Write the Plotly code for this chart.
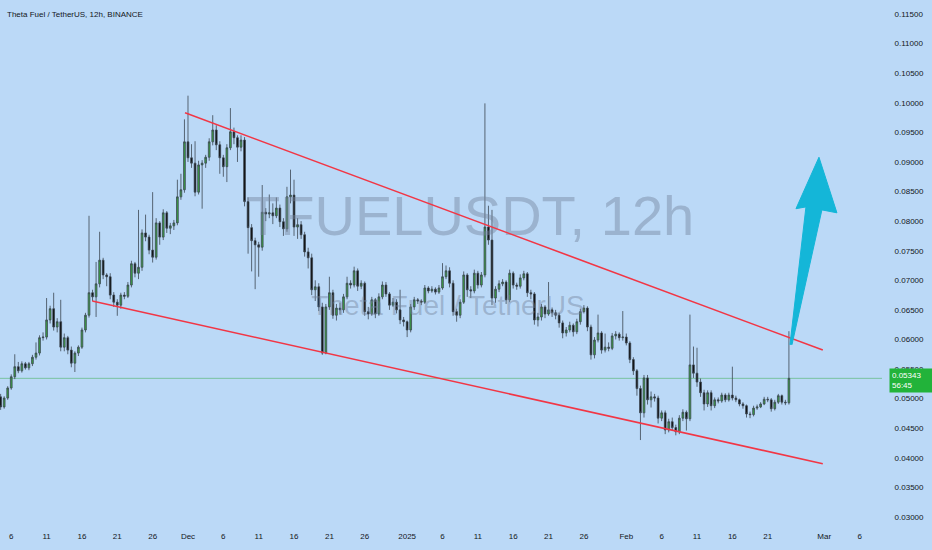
import plotly.graph_objects as go
import pandas as pd

# ---------------- data ----------------
start_time = "2024-11-04 12:00"   # first 12h candle
first_open = 0.0503

close = [0.0486,0.0501,0.0518,0.0537,0.0554,0.0547,0.0559,0.0552,0.0559,0.0570,
         0.0577,0.0603,0.0604,0.0633,0.0652,0.0621,0.0630,0.0587,0.0603,0.0582,
         0.0560,0.0577,0.0587,0.0616,0.0641,0.0679,0.0672,0.0694,0.0734,0.0709,
         0.0706,0.0675,0.0663,0.0658,0.0675,0.0673,0.0692,0.0728,0.0712,0.0722,
         0.0780,0.0773,0.0751,0.0739,0.0797,0.0773,0.0814,0.0788,0.0792,0.0797,
         0.0841,0.0853,0.0934,0.0907,0.0898,0.0849,0.0895,0.0898,0.0908,0.0934,
         0.0954,0.0929,0.0907,0.0892,0.0924,0.0951,0.0941,0.0925,0.0937,0.0833,
         0.0789,0.0767,0.0760,0.0756,0.0815,0.0812,0.0814,0.0809,0.0822,0.0799,
         0.0787,0.0841,0.0844,0.0790,0.0794,0.0777,0.0748,0.0738,0.0684,0.0689,
         0.0655,0.0577,0.0655,0.0679,0.0641,0.0653,0.0650,0.0672,0.0695,0.0692,
         0.0716,0.0690,0.0695,0.0647,0.0643,0.0667,0.0643,0.0672,0.0692,0.0677,
         0.0658,0.0663,0.0650,0.0633,0.0630,0.0616,0.0655,0.0667,0.0665,0.0663,
         0.0687,0.0682,0.0685,0.0680,0.0687,0.0706,0.0716,0.0695,0.0647,0.0641,
         0.0663,0.0709,0.0684,0.0682,0.0712,0.0692,0.0709,0.0790,0.0768,0.0670,
         0.0685,0.0694,0.0697,0.0667,0.0712,0.0692,0.0690,0.0704,0.0711,0.0679,
         0.0677,0.0633,0.0638,0.0655,0.0643,0.0650,0.0645,0.0641,0.0628,0.0611,
         0.0616,0.0624,0.0613,0.0630,0.0647,0.0653,0.0621,0.0574,0.0599,0.0611,
         0.0582,0.0587,0.0585,0.0606,0.0609,0.0603,0.0604,0.0594,0.0566,0.0547,
         0.0517,0.0476,0.0535,0.0498,0.0503,0.0501,0.0467,0.0476,0.0447,0.0461,
         0.0451,0.0444,0.0467,0.0477,0.0466,0.0557,0.0543,0.0528,0.0510,0.0491,
         0.0510,0.0488,0.0498,0.0496,0.0506,0.0498,0.0506,0.0501,0.0498,0.0491,
         0.0488,0.0474,0.0473,0.0484,0.0486,0.0491,0.0499,0.0498,0.0483,0.0494,
         0.0505,0.0494,0.0493,0.05343]

high = [0.0508,0.0504,0.0521,0.0541,0.0575,0.0562,0.0563,0.0562,0.0562,0.0574,
        0.0595,0.0607,0.0612,0.0670,0.0657,0.0679,0.0636,0.0667,0.0610,0.0606,
        0.0588,0.0580,0.0590,0.0620,0.0645,0.0809,0.0684,0.0731,0.0782,0.0738,
        0.0712,0.0712,0.0680,0.0668,0.0679,0.0680,0.0697,0.0733,0.0731,0.0819,
        0.0786,0.0811,0.0777,0.0849,0.0805,0.0800,0.0820,0.0817,0.0797,0.0802,
        0.0870,0.0880,0.0972,0.1012,0.0930,0.0935,0.0902,0.0903,0.0912,0.0940,
        0.0979,0.0962,0.0935,0.0912,0.0930,0.0991,0.0958,0.0945,0.0945,0.0942,
        0.0840,0.0795,0.0772,0.0765,0.0861,0.0822,0.0845,0.0830,0.0840,0.0828,
        0.0805,0.0858,0.0887,0.0870,0.0805,0.0800,0.0782,0.0755,0.0745,0.0700,
        0.0695,0.0662,0.0660,0.0706,0.0684,0.0660,0.0662,0.0677,0.0706,0.0700,
        0.0723,0.0720,0.0700,0.0698,0.0655,0.0672,0.0670,0.0678,0.0698,0.0697,
        0.0680,0.0670,0.0668,0.0684,0.0638,0.0632,0.0660,0.0672,0.0670,0.0668,
        0.0692,0.0690,0.0690,0.0688,0.0692,0.0729,0.0725,0.0722,0.0700,0.0652,
        0.0668,0.0715,0.0712,0.0690,0.0718,0.0716,0.0714,0.0999,0.0826,0.0819,
        0.0690,0.0700,0.0702,0.0700,0.0718,0.0715,0.0696,0.0710,0.0716,0.0714,
        0.0684,0.0680,0.0645,0.0660,0.0658,0.0697,0.0654,0.0650,0.0645,0.0632,
        0.0621,0.0630,0.0627,0.0635,0.0652,0.0658,0.0656,0.0625,0.0604,0.0642,
        0.0614,0.0610,0.0595,0.0611,0.0614,0.0612,0.0648,0.0610,0.0597,0.0570,
        0.0550,0.0522,0.0540,0.0540,0.0512,0.0508,0.0505,0.0480,0.0480,0.0466,
        0.0468,0.0456,0.0472,0.0482,0.0480,0.0642,0.0588,0.0586,0.0534,0.0515,
        0.0514,0.0514,0.0502,0.0502,0.0510,0.0509,0.0510,0.0554,0.0505,0.0500,
        0.0494,0.0490,0.0478,0.0488,0.0490,0.0494,0.0503,0.0503,0.0501,0.0498,
        0.0508,0.0507,0.0498,0.0614]

low = [0.0481,0.0483,0.0498,0.0515,0.0533,0.0543,0.0544,0.0549,0.0548,0.0555,
       0.0566,0.0573,0.0598,0.0600,0.0627,0.0615,0.0612,0.0580,0.0580,0.0575,
       0.0553,0.0545,0.0572,0.0584,0.0612,0.0637,0.0665,0.0638,0.0688,0.0702,
       0.0690,0.0668,0.0655,0.0640,0.0652,0.0668,0.0670,0.0688,0.0705,0.0702,
       0.0716,0.0766,0.0744,0.0730,0.0735,0.0760,0.0768,0.0780,0.0778,0.0785,
       0.0793,0.0836,0.0848,0.0900,0.0890,0.0842,0.0845,0.0821,0.0890,0.0902,
       0.0928,0.0920,0.0880,0.0875,0.0866,0.0920,0.0930,0.0900,0.0918,0.0825,
       0.0745,0.0715,0.0685,0.0706,0.0750,0.0800,0.0805,0.0795,0.0805,0.0790,
       0.0775,0.0782,0.0830,0.0775,0.0770,0.0770,0.0740,0.0720,0.0675,0.0665,
       0.0648,0.0574,0.0575,0.0650,0.0635,0.0632,0.0642,0.0645,0.0668,0.0686,
       0.0688,0.0682,0.0685,0.0640,0.0634,0.0640,0.0636,0.0640,0.0668,0.0672,
       0.0650,0.0655,0.0644,0.0626,0.0622,0.0604,0.0612,0.0650,0.0660,0.0658,
       0.0660,0.0678,0.0679,0.0676,0.0677,0.0684,0.0702,0.0688,0.0640,0.0630,
       0.0636,0.0660,0.0672,0.0670,0.0678,0.0686,0.0688,0.0705,0.0760,0.0658,
       0.0662,0.0680,0.0690,0.0660,0.0663,0.0686,0.0684,0.0686,0.0700,0.0672,
       0.0668,0.0625,0.0622,0.0632,0.0636,0.0640,0.0638,0.0634,0.0620,0.0602,
       0.0605,0.0612,0.0605,0.0609,0.0625,0.0644,0.0614,0.0566,0.0568,0.0595,
       0.0576,0.0578,0.0580,0.0582,0.0600,0.0598,0.0598,0.0590,0.0560,0.0540,
       0.0505,0.0430,0.0468,0.0490,0.0485,0.0495,0.0458,0.0462,0.0440,0.0443,
       0.0446,0.0438,0.0440,0.0462,0.0446,0.0462,0.0535,0.0520,0.0503,0.0480,
       0.0486,0.0480,0.0484,0.0492,0.0493,0.0494,0.0495,0.0497,0.0494,0.0487,
       0.0483,0.0468,0.0467,0.0470,0.0481,0.0484,0.0489,0.0494,0.0478,0.0480,
       0.0491,0.0490,0.0489,0.0490]

last_price = 0.05343
countdown = "56:45"

upper_line_dates = ["2024-11-30 14:00", "2025-02-28 19:00"]
upper_line_prices = [0.0983, 0.0582]
lower_line_dates = ["2024-11-17 11:00", "2025-02-28 19:00"]
lower_line_prices = [0.0665, 0.0390]

arrow_dates = ["2025-02-24 03:30", "2025-02-26 09:50", "2025-02-25 00:00", "2025-02-28 06:00",
               "2025-03-02 19:00", "2025-02-28 16:00", "2025-02-24 10:20"]
arrow_prices = [0.0591, 0.0824, 0.0821, 0.0908, 0.0814, 0.0819, 0.0591]

price_ticks = [0.030, 0.035, 0.040, 0.045, 0.050, 0.055, 0.060, 0.065, 0.070,
               0.075, 0.080, 0.085, 0.090, 0.095, 0.100, 0.105, 0.110, 0.115]
time_tick_dates = ["2024-11-06", "2024-11-11", "2024-11-16", "2024-11-21", "2024-11-26",
                   "2024-12-01", "2024-12-06", "2024-12-11", "2024-12-16", "2024-12-21",
                   "2024-12-26", "2025-01-01", "2025-01-06", "2025-01-11", "2025-01-16",
                   "2025-01-21", "2025-01-26", "2025-02-01", "2025-02-06", "2025-02-11",
                   "2025-02-16", "2025-02-21", "2025-03-01", "2025-03-06"]
time_tick_labels = ["6", "11", "16", "21", "26", "Dec", "6", "11", "16", "21", "26", "2025",
                    "6", "11", "16", "21", "26", "Feb", "6", "11", "16", "21", "Mar", "6"]

x_range = ["2024-11-04 09:50", "2025-03-09 04:00"]
y_range = [0.02915, 0.11737]

# ---------------- build ----------------
dates = pd.date_range(start_time, periods=len(close), freq="12h")
opens = [first_open] + close[:-1]

BG = "rgb(187,217,247)"
TXT = "#131722"

x0, x1 = pd.Timestamp(x_range[0]), pd.Timestamp(x_range[1])


def paper_pt(fx, fy):
    return x0 + (x1 - x0) * fx, y_range[0] + (y_range[1] - y_range[0]) * fy


fig = go.Figure()

# watermark (drawn first so candles sit on top)
wx1, wy1 = paper_pt(0.533, 0.577)
wx2, wy2 = paper_pt(0.508, 0.410)
fig.add_trace(go.Scatter(x=[wx1], y=[wy1], mode="text", text=["TFUELUSDT, 12h"],
                         textfont=dict(family="Liberation Sans", size=56,
                                       color="rgba(118,134,158,0.45)"),
                         hoverinfo="skip", showlegend=False))
fig.add_trace(go.Scatter(x=[wx2], y=[wy2], mode="text", text=["Theta Fuel / TetherUS"],
                         textfont=dict(family="Liberation Sans", size=28,
                                       color="rgba(118,134,158,0.45)"),
                         hoverinfo="skip", showlegend=False))

fig.add_trace(go.Candlestick(
    x=dates, open=opens, high=high, low=low, close=close,
    increasing=dict(fillcolor="#3ba243", line=dict(color="#3b4652", width=0.8)),
    decreasing=dict(fillcolor="#0a0a0a", line=dict(color="#3b4652", width=0.8)),
    whiskerwidth=0, showlegend=False, hoverinfo="skip"))

fig.add_trace(go.Scatter(x=upper_line_dates, y=upper_line_prices, mode="lines",
                         line=dict(color="#f23645", width=1.6), showlegend=False, hoverinfo="skip"))
fig.add_trace(go.Scatter(x=lower_line_dates, y=lower_line_prices, mode="lines",
                         line=dict(color="#f23645", width=1.6), showlegend=False, hoverinfo="skip"))

fig.add_trace(go.Scatter(x=arrow_dates, y=arrow_prices, mode="lines", fill="toself",
                         fillcolor="#14b6d8", line=dict(color="#14b6d8", width=1),
                         showlegend=False, hoverinfo="skip"))

# current price line
fig.add_shape(type="line", xref="paper", x0=0, x1=1, yref="y", y0=last_price, y1=last_price,
              line=dict(color="rgba(60,175,80,0.75)", width=0.7), layer="below")

fig.add_annotation(xref="paper", x=1, xanchor="left", xshift=7, yref="y", y=last_price,
                   yanchor="top", yshift=10, text=f"{last_price:.5f}<br>{countdown}",
                   showarrow=False, align="left", bgcolor="#22b33a", borderpad=2,
                   width=40, font=dict(color="white", size=8, family="Liberation Sans"))

fig.add_annotation(xref="paper", yref="paper", x=0, y=1, xanchor="left", yanchor="top",
                   xshift=5, yshift=-8, text="Theta Fuel / TetherUS, 12h, BINANCE",
                   showarrow=False, font=dict(color=TXT, size=8, family="Liberation Sans"))

fig.update_layout(
    width=932, height=550,
    margin=dict(l=0, r=50, t=0, b=28),
    paper_bgcolor=BG, plot_bgcolor=BG,
    showlegend=False,
    xaxis=dict(type="date", range=x_range, rangeslider=dict(visible=False),
               tickvals=time_tick_dates, ticktext=time_tick_labels,
               showgrid=False, zeroline=False, showline=False,
               ticks="outside", ticklen=6, tickcolor=BG,
               tickfont=dict(size=8, color=TXT, family="Liberation Sans")),
    yaxis=dict(range=y_range, side="right", tickvals=price_ticks,
               ticktext=[f"{v:.5f}" for v in price_ticks],
               showgrid=False, zeroline=False, showline=False,
               ticks="outside", ticklen=10, tickcolor=BG,
               tickfont=dict(size=8, color=TXT, family="Liberation Sans")),
)

fig.write_html("out.html",
               config={"displayModeBar": False},
               post_script="document.body.style.margin='0px';"
                           "document.body.style.background='rgb(187,217,247)';")
